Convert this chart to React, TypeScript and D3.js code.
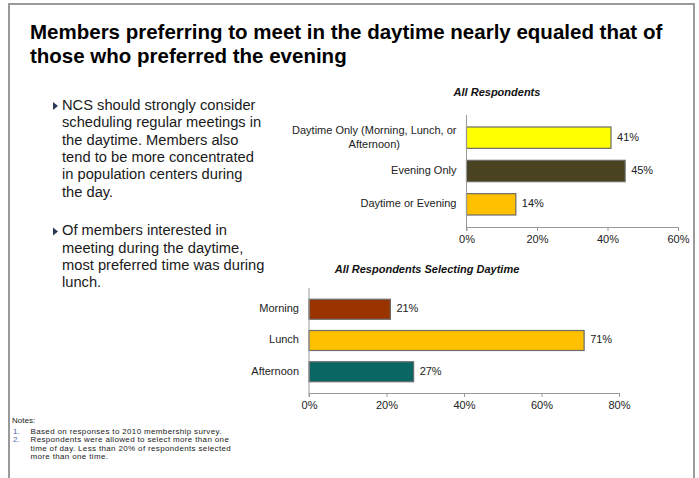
import { useRef, useEffect } from 'react';
import * as d3 from 'd3';

// Chart data
const overallLabels = [
  ["Daytime Only (Morning, Lunch, or", "Afternoon)"],
  ["Evening Only"],
  ["Daytime or Evening"]
];
const overallValues = [41, 45, 14];
const overallColors = ["#ffff00", "#4a4322", "#ffc000"];
const overallTicks = [0, 20, 40, 60];

const daytimeLabels = [["Morning"], ["Lunch"], ["Afternoon"]];
const daytimeValues = [21, 71, 27];
const daytimeColors = ["#993300", "#ffc000", "#0a6662"];
const daytimeTicks = [0, 20, 40, 60, 80];

const titleLines = [
  "Members preferring to meet in the daytime nearly equaled that of",
  "those who preferred the evening"
];
const bullets = [
  ["NCS should strongly consider", "scheduling regular meetings in", "the daytime. Members also", "tend to be more concentrated", "in population centers during", "the day."],
  ["Of members interested in", "meeting during the daytime,", "most preferred time was during", "lunch."]
];
const notes = [
  ["Based on responses to 2010 membership survey."],
  ["Respondents were allowed to select more than one", "time of day. Less than 20% of respondents selected", "more than one time."]
];

const FONT = "Liberation Sans, Arial, sans-serif";

type BarOpts = {
  title: string;
  labels: string[][];
  values: number[];
  colors: string[];
  ticks: number[];
  x0: number; x1: number; y0: number; y1: number;
  titleX: number; titleY: number;
};

function drawBars(svg: d3.Selection<SVGSVGElement, unknown, null, undefined>, o: BarOpts) {
  const g = svg.append("g");
  const x = d3.scaleLinear().domain([0, o.ticks[o.ticks.length - 1]]).range([o.x0, o.x1]);
  const y = d3.scaleBand<number>().domain(d3.range(o.values.length)).range([o.y0, o.y1]).padding(0.36);

  g.append("text")
    .attr("x", o.titleX).attr("y", o.titleY)
    .attr("text-anchor", "middle")
    .attr("dominant-baseline", "middle")
    .style("font", `italic bold 11px ${FONT}`)
    .attr("fill", "#111")
    .text(o.title);

  // bars
  g.selectAll("rect.bar")
    .data(o.values)
    .join("rect")
    .attr("class", "bar")
    .attr("x", x(0))
    .attr("y", (_, i) => y(i)!)
    .attr("width", d => x(d) - x(0))
    .attr("height", y.bandwidth())
    .attr("fill", (_, i) => o.colors[i])
    .attr("stroke", "#6b6b6b")
    .attr("stroke-width", 1.2);

  // value labels
  g.selectAll("text.val")
    .data(o.values)
    .join("text")
    .attr("class", "val")
    .attr("x", d => x(d) + 6)
    .attr("y", (_, i) => y(i)! + y.bandwidth() / 2)
    .attr("dominant-baseline", "middle")
    .style("font", `11px ${FONT}`)
    .attr("fill", "#222")
    .text(d => `${d}%`);

  // category labels (multi-line labels are centred as a block, right edge at the axis gap)
  const right = o.x0 - 10;
  o.labels.forEach((lines, i) => {
    const cy = y(i)! + y.bandwidth() / 2;
    const lh = 14;
    const texts = lines.map((line, j) =>
      g.append("text")
        .attr("y", cy + (j - (lines.length - 1) / 2) * lh)
        .attr("dominant-baseline", "middle")
        .style("font", `11px ${FONT}`)
        .attr("fill", "#222")
        .text(line)
    );
    const widths = texts.map(t => (t.node() as SVGTextElement).getComputedTextLength());
    const blockW = Math.max(...widths);
    texts.forEach(t => t.attr("x", right - blockW / 2).attr("text-anchor", "middle"));
  });

  // axes
  const ax = g.append("g")
    .attr("transform", `translate(0,${o.y1})`)
    .call(d3.axisBottom(x).tickValues(o.ticks).tickSize(4).tickSizeOuter(0).tickFormat(d => `${d}%`));
  ax.select(".domain").attr("stroke", "#999");
  ax.selectAll(".tick line").attr("stroke", "#999");
  ax.selectAll(".tick text")
    .attr("dy", null)
    .attr("y", 13)
    .attr("dominant-baseline", "middle")
    .style("font", `11px ${FONT}`)
    .attr("fill", "#222");

  g.append("line")
    .attr("x1", x(0)).attr("x2", x(0))
    .attr("y1", o.y0).attr("y2", o.y1 + 4)
    .attr("stroke", "#999");
}

export default function App() {
  const ref = useRef<SVGSVGElement>(null);

  useEffect(() => {
    document.body.style.margin = "0";
    if (!ref.current) return;
    const svg = d3.select(ref.current);
    svg.selectAll("*").remove();

    svg.append("rect").attr("width", 699).attr("height", 478).attr("fill", "#fff");
    svg.append("path")
      .attr("d", "M9,478V4H694V478")
      .attr("fill", "none")
      .attr("stroke", "#9a9a9a")
      .attr("stroke-width", 2);

    // title
    titleLines.forEach((t, i) => {
      svg.append("text")
        .attr("x", 30).attr("y", 39.3 + i * 24)
        .style("font", `bold 20.5px ${FONT}`)
        .attr("fill", "#000")
        .text(t);
    });

    // bullets
    let by = 106;
    bullets.forEach(lines => {
      svg.append("path")
        .attr("d", `M53,${by - 4}L58,${by}L53,${by + 4}Z`)
        .attr("fill", "#2b3a55");
      lines.forEach((line, j) => {
        svg.append("text")
          .attr("x", 62).attr("y", by + j * 17.4)
          .attr("dominant-baseline", "middle")
          .style("font", `14.7px ${FONT}`)
          .attr("fill", "#1a1a1a")
          .text(line);
      });
      by += lines.length * 17.4 + 21;
    });

    drawBars(svg, {
      title: "All Respondents", labels: overallLabels, values: overallValues,
      colors: overallColors, ticks: overallTicks,
      x0: 466.5, x1: 678, y0: 115, y1: 227, titleX: 497, titleY: 93
    });
    drawBars(svg, {
      title: "All Respondents Selecting Daytime", labels: daytimeLabels, values: daytimeValues,
      colors: daytimeColors, ticks: daytimeTicks,
      x0: 309, x1: 619, y0: 288, y1: 393, titleX: 427, titleY: 270
    });

    // notes
    const noteFont = `8px ${FONT}`;
    const noteLh = 8.6;
    svg.append("text")
      .attr("x", 12).attr("y", 421)
      .attr("dominant-baseline", "middle")
      .style("font", noteFont)
      .attr("fill", "#222")
      .text("Notes:");
    let ny = 431.5;
    notes.forEach((lines, i) => {
      svg.append("text")
        .attr("x", 13).attr("y", ny)
        .attr("dominant-baseline", "middle")
        .style("font", noteFont)
        .attr("fill", "#4a6aa8")
        .text(`${i + 1}.`);
      lines.forEach((line, j) => {
        svg.append("text")
          .attr("x", 30.5).attr("y", ny + j * noteLh)
          .attr("dominant-baseline", "middle")
          .style("font", noteFont)
          .style("letter-spacing", "0.35px")
          .attr("fill", "#222")
          .text(line);
      });
      ny += lines.length * noteLh;
    });
  }, []);

  return <svg ref={ref} width={699} height={478} style={{ display: "block" }} />;
}
